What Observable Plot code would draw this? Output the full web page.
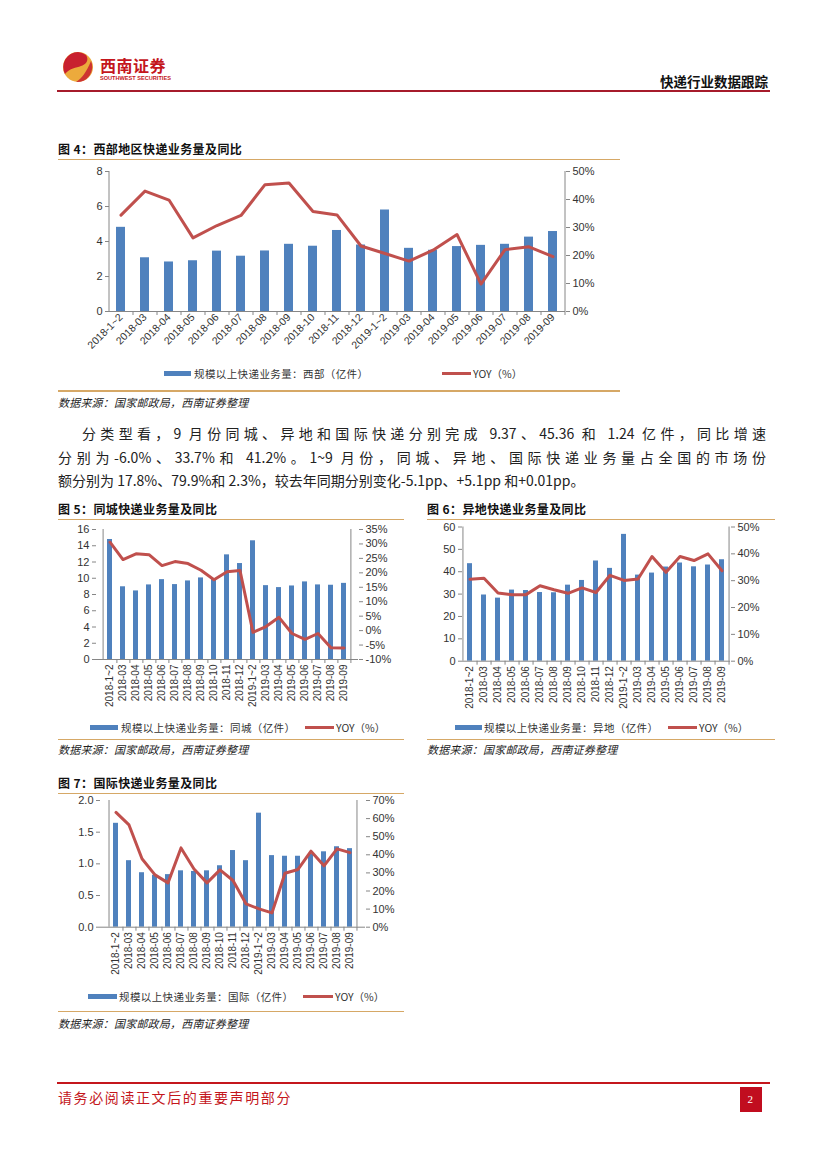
<!DOCTYPE html>
<html><head><meta charset="utf-8">
<script src="https://cdn.jsdelivr.net/npm/d3@7"></script>
<script src="https://cdn.jsdelivr.net/npm/@observablehq/plot@0.6"></script>
<style>
body{margin:0;background:#fff;}
#page{position:relative;width:827px;height:1169px;overflow:hidden;background:#fff;font-family:"Noto Sans CJK SC","Noto Sans",sans-serif;color:#222;}
.abs{position:absolute;white-space:nowrap;}
</style></head><body><div id="page"></div>
<script>
// ---------- data ----------
const months = ["2018-1~2","2018-03","2018-04","2018-05","2018-06","2018-07","2018-08","2018-09","2018-10","2018-11","2018-12","2019-1~2","2019-03","2019-04","2019-05","2019-06","2019-07","2019-08","2019-09"];

const westVolume = [4.81,3.07,2.83,2.90,3.45,3.16,3.46,3.84,3.73,4.63,3.80,5.80,3.61,3.50,3.71,3.78,3.84,4.25,4.57];
const westYoy    = [34.4,43.0,39.8,26.3,30.7,34.3,45.3,45.9,35.7,34.5,23.4,20.7,18.0,21.9,27.5,9.8,22.1,23.1,19.6];
const westLeftTicks  = [0,2,4,6,8];
const westRightTicks = [0,10,20,30,40,50];

const cityVolume = [14.77,8.95,8.44,9.18,9.83,9.22,9.67,10.04,9.9,12.88,11.81,14.61,9.09,8.85,9.05,9.55,9.18,9.14,9.37];
const cityYoy    = [30.6,24.6,26.6,26.3,22.5,23.9,23.2,20.9,17.6,20.4,20.8,-0.6,1.4,4.6,-1.0,-3.0,-1.0,-5.9,-6.0];
const cityLeftTicks  = [0,2,4,6,8,10,12,14,16];
const cityRightTicks = [-10,-5,0,5,10,15,20,25,30,35];

const interVolume = [43.6,29.6,28.2,31.8,31.6,30.7,30.6,34.0,36.1,44.8,41.5,56.7,38.5,39.4,42.1,43.9,42.2,43.0,45.36];
const interYoy    = [30.5,30.9,25.4,24.8,24.8,28.1,26.6,25.3,27.3,25.6,32.0,30.1,30.6,39.0,33.1,39.0,37.5,40.0,33.7];
const interLeftTicks  = [0,10,20,30,40,50,60];
const interRightTicks = [0,10,20,30,40,50];

const intlVolume = [1.64,1.05,0.86,0.82,0.83,0.89,0.88,0.89,0.97,1.21,1.05,1.80,1.13,1.12,1.12,1.15,1.19,1.27,1.24];
const intlYoy    = [63.4,56.5,37.8,28.9,24.5,43.8,32.2,24.5,31.7,25.8,12.9,10.1,7.9,29.8,31.9,42.0,33.9,43.3,41.2];
const intlLeftTicks  = [0,0.5,1.0,1.5,2.0];
const intlRightTicks = [0,10,20,30,40,50,60,70];

// ---------- style ----------
const BLUE = "#4f81bd", RED = "#c0504d", AXIS = "#868686", GOLD = "#d6a866";
const page = document.getElementById("page");

function txt(s, x, cy, o = {}) {
  const size = o.size || 12, lh = o.lh || Math.round(size * 1.4);
  const d = document.createElement("div");
  d.className = "abs";
  d.textContent = s;
  d.style.top = (cy - lh / 2) + "px";
  if (o.right != null) d.style.right = o.right + "px"; else d.style.left = x + "px";
  d.style.fontSize = size + "px";
  d.style.lineHeight = lh + "px";
  d.style.fontWeight = o.weight || 400;
  d.style.color = o.color || "#222";
  if (o.italic) d.style.fontStyle = "italic";
  if (o.ls != null) d.style.letterSpacing = o.ls + "px";
  if (o.family) d.style.fontFamily = o.family;
  if (o.width) { d.style.width = o.width + "px"; d.style.textAlign = "justify"; d.style.textAlignLast = "justify"; d.style.whiteSpace = "normal"; }
  page.appendChild(d);
  return d;
}
function rect(x, y, w, h, color) {
  const d = document.createElement("div");
  d.className = "abs";
  Object.assign(d.style, {left: x + "px", top: y + "px", width: w + "px", height: h + "px", background: color});
  page.appendChild(d);
  return d;
}

// ---------- header ----------
const logo = document.createElementNS("http://www.w3.org/2000/svg", "svg");
logo.setAttribute("width", 32); logo.setAttribute("height", 32);
logo.setAttribute("style", "position:absolute;left:62px;top:51px;");
logo.innerHTML = `<circle cx="16" cy="16" r="15" fill="#ecaa3c"/>
<path d="M16 1 A15 15 0 0 0 3 23 C8 17 14 17 19 15 C25 13 27 8 24 4 A15 15 0 0 0 16 1 Z" fill="#c8202f"/>
<path d="M29 10 A15 15 0 0 1 14 31 C20 27 24 22 29 10 Z" fill="#c8202f" opacity="0.85"/>`;
page.appendChild(logo);
txt("西南证券", 100, 65, {size: 16, weight: 700, color: "#c4161c", ls: 0.5});
txt("SOUTHWEST SECURITIES", 100, 78.5, {size: 5.6, weight: 700, color: "#c4161c", family: "'Liberation Sans',Arial,sans-serif", lh: 7});
txt("快递行业数据跟踪", 0, 81, {size: 13.5, weight: 700, color: "#111", right: 59});
rect(57, 90, 713, 2.2, "#a61b2b");

// ---------- chart builder ----------
function dualChart(cfg) {
  const {vol, yoy, leftTicks, rightTicks, leftFmt, width, height, ml, mr, mt, mb, pad, rotate, xFont, yFont, left, top, lineW} = cfg;
  const yMax = leftTicks[leftTicks.length - 1];
  const rMin = rightTicks[0], rMax = rightTicks[rightTicks.length - 1];
  const toL = v => (v - rMin) / (rMax - rMin) * yMax;
  const fromL = d => d / yMax * (rMax - rMin) + rMin;
  const data = months.map((m, i) => ({m, vol: vol[i], yoy: yoy[i]}));
  const step = (width - ml - mr) / months.length;
  const svg = Plot.plot({
    width, height, marginLeft: ml, marginRight: mr, marginTop: mt, marginBottom: mb,
    style: {fontFamily: "'Liberation Sans',Arial,sans-serif", fontSize: yFont + "px", color: "#333", background: "transparent", overflow: "visible"},
    x: {type: "band", domain: months, paddingInner: pad, paddingOuter: pad / 2, axis: null, label: null},
    y: {domain: [0, yMax], axis: null, label: null},
    marks: [
      Plot.barY(data, {x: "m", y: "vol", fill: BLUE}),
      Plot.line(data, {x: "m", y: d => toL(d.yoy), stroke: RED, strokeWidth: lineW, strokeLinejoin: "round", strokeLinecap: "round"}),
      Plot.ruleY([0], {stroke: AXIS}),
      Plot.ruleX([months[0]], {dx: -step / 2, stroke: AXIS}),
      Plot.ruleX([months[months.length - 1]], {dx: step / 2, stroke: AXIS}),
      Plot.axisX({tickSize: 4, fill: "none", stroke: AXIS, dx: step / 2, label: null}),
      Plot.axisX({tickSize: 0, tickPadding: rotate === -90 ? 5 : 4, tickRotate: rotate, fontSize: xFont, fill: "#333", label: null}),
      Plot.axisY({ticks: leftTicks, tickSize: 4, tickPadding: 3, stroke: AXIS, fill: "#333", tickFormat: leftFmt, label: null}),
      Plot.axisY({ticks: rightTicks.map(toL), anchor: "right", tickSize: 4, tickPadding: 3, stroke: AXIS, fill: "#333", label: null,
        tickFormat: d => Math.round(fromL(d)) + "%"})
    ]
  });
  svg.style.position = "absolute";
  svg.style.left = left + "px";
  svg.style.top = top + "px";
  svg.style.overflow = "visible";
  svg.style.background = "transparent";
  svg.style.maxWidth = "none";
  page.appendChild(svg);
  return svg;
}

function legend(cy, bx, bw, tx, label, rx, rw, yx) {
  rect(bx, cy - 2.5, bw, 5, BLUE);
  txt(label, tx, cy, {size: 10.5, ls: 0.4, color: "#333"});
  rect(rx, cy - 1.5, rw, 3, RED);
  txt("YOY（%）", yx, cy, {size: 10.5, color: "#333"});
}

// ---------- figure 4 ----------
txt("图 4：西部地区快递业务量及同比", 58, 148.5, {size: 12, weight: 700, color: "#111", ls: 0.4});
rect(58, 158.5, 562, 1.5, GOLD);
dualChart({vol: westVolume, yoy: westYoy, leftTicks: westLeftTicks, rightTicks: westRightTicks, leftFmt: d3.format("d"),
  left: 58, top: 160, width: 562, height: 200, ml: 51, mr: 55, mt: 11, mb: 49, pad: 0.62, rotate: -45, xFont: 10.5, yFont: 11, lineW: 3});
legend(373, 164, 27, 194, "规模以上快递业务量：西部（亿件）", 442, 29, 473);
rect(58, 390, 562, 1.5, GOLD);
txt("数据来源：国家邮政局，西南证券整理", 58, 402.5, {size: 11, italic: true, color: "#222", ls: 0.2});

// ---------- paragraph ----------
txt("分类型看，9 月份同城、异地和国际快递分别完成 9.37、45.36 和 1.24 亿件，同比增速", 82, 433.5, {size: 14, width: 684, lh: 19});
txt("分别为-6.0%、33.7%和 41.2%。1~9 月份，同城、异地、国际快递业务量占全国的市场份", 58, 457, {size: 14, width: 708, lh: 19});
txt("额分别为 17.8%、79.9%和 2.3%，较去年同期分别变化-5.1pp、+5.1pp 和+0.01pp。", 58, 480, {size: 14, lh: 19});

// ---------- figure 5 ----------
txt("图 5：同城快递业务量及同比", 58, 508, {size: 12, weight: 700, color: "#111", ls: 0.4});
rect(58, 518.5, 346, 1.5, GOLD);
dualChart({vol: cityVolume, yoy: cityYoy, leftTicks: cityLeftTicks, rightTicks: cityRightTicks, leftFmt: d3.format("d"),
  left: 58, top: 520, width: 346, height: 200, ml: 38, mr: 46, mt: 9, mb: 61, pad: 0.6, rotate: -90, xFont: 10, yFont: 11, lineW: 3});
legend(727.5, 90, 28, 121, "规模以上快递业务量：同城（亿件）", 305, 29, 336);
rect(58, 738.5, 346, 1.5, GOLD);
txt("数据来源：国家邮政局，西南证券整理", 58, 749.5, {size: 11, italic: true, color: "#222", ls: 0.2});

// ---------- figure 6 ----------
txt("图 6：异地快递业务量及同比", 427, 508, {size: 12, weight: 700, color: "#111", ls: 0.4});
rect(427, 518.5, 348, 1.5, GOLD);
dualChart({vol: interVolume, yoy: interYoy, leftTicks: interLeftTicks, rightTicks: interRightTicks, leftFmt: d3.format("d"),
  left: 427, top: 520, width: 348, height: 200, ml: 35, mr: 45, mt: 6.5, mb: 59.3, pad: 0.64, rotate: -90, xFont: 10, yFont: 11, lineW: 3});
legend(727.5, 455, 27, 484, "规模以上快递业务量：异地（亿件）", 668, 29, 699);
rect(427, 738.5, 348, 1.5, GOLD);
txt("数据来源：国家邮政局，西南证券整理", 427, 749.5, {size: 11, italic: true, color: "#222", ls: 0.2});

// ---------- figure 7 ----------
txt("图 7：国际快递业务量及同比", 58, 782.5, {size: 12, weight: 700, color: "#111", ls: 0.4});
rect(58, 792.5, 346, 1.5, GOLD);
dualChart({vol: intlVolume, yoy: intlYoy, leftTicks: intlLeftTicks, rightTicks: intlRightTicks, leftFmt: d3.format(".1f"),
  left: 58, top: 794, width: 346, height: 190, ml: 42, mr: 39, mt: 6, mb: 57.3, pad: 0.62, rotate: -90, xFont: 10, yFont: 11, lineW: 3});
legend(996, 88, 29, 119, "规模以上快递业务量：国际（亿件）", 303, 30, 335);
rect(58, 1010.5, 346, 1.5, GOLD);
txt("数据来源：国家邮政局，西南证券整理", 58, 1023, {size: 11, italic: true, color: "#222", ls: 0.2});

// ---------- footer ----------
rect(57, 1081.5, 713, 2, "#c4161c");
txt("请务必阅读正文后的重要声明部分", 58, 1097, {size: 14, color: "#c4161c", ls: 1.6});
rect(740, 1087, 22, 25, "#c10d1f");
txt("2", 747.5, 1099.5, {size: 11, color: "#fff", family: "'Liberation Serif',serif"});
</script></body></html>
